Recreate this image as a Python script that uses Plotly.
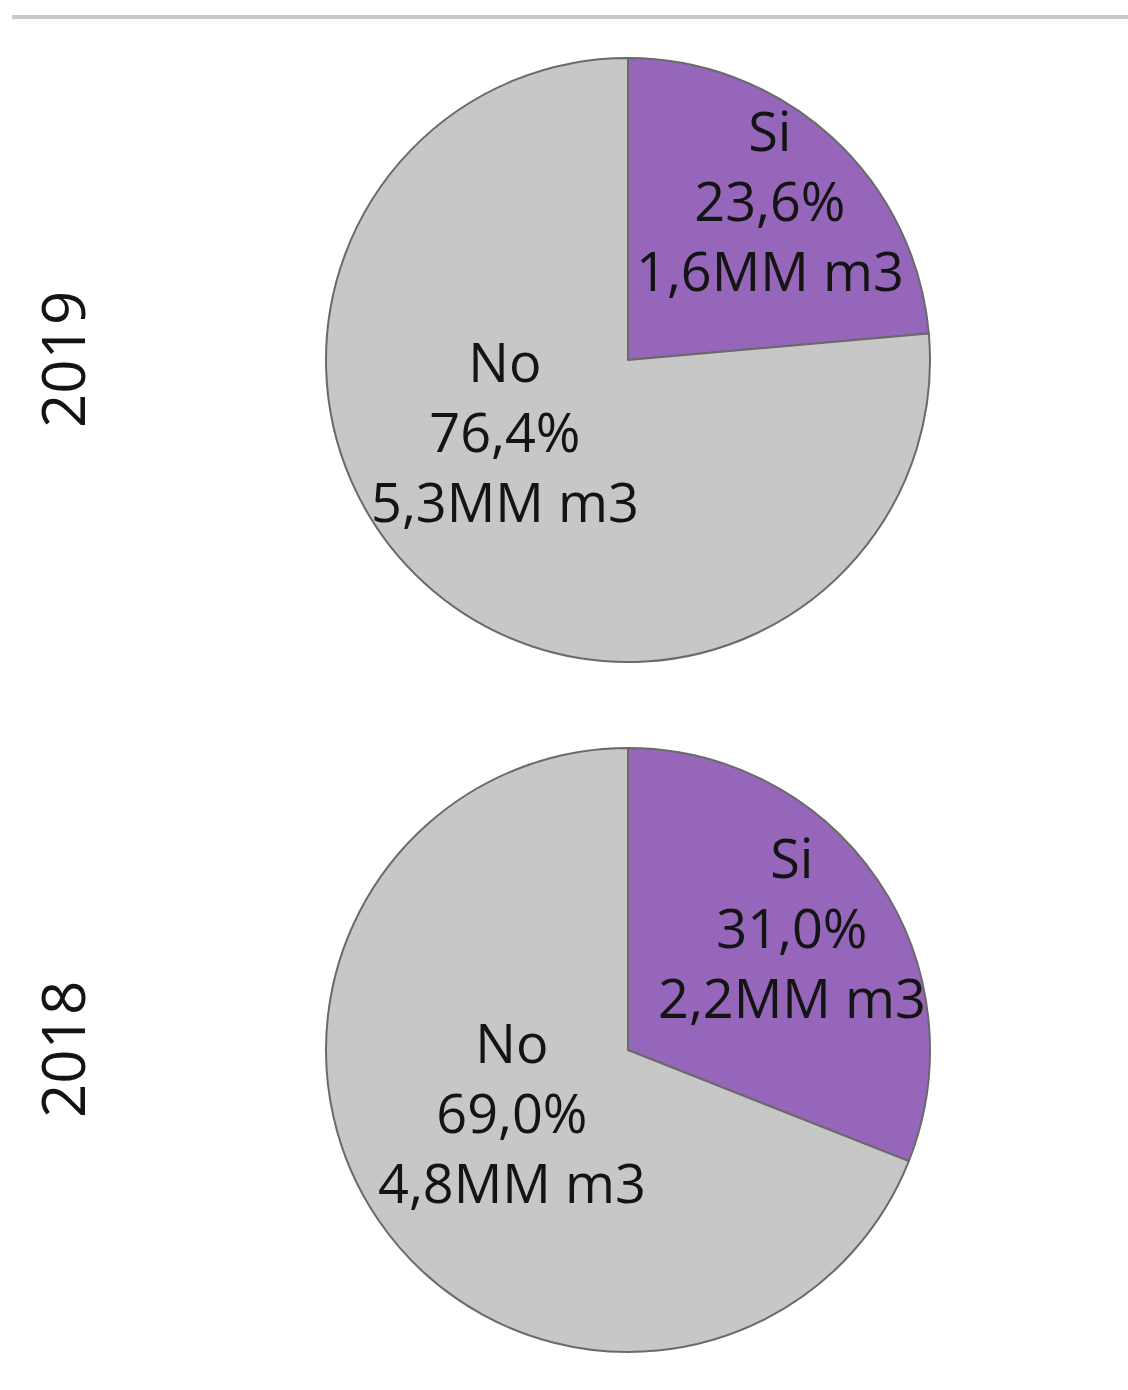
import plotly.graph_objects as go

# Share of volume, by year
years = ["2019", "2018"]
categories = ["Si", "No"]
share_pct = {
    "2019": [23.6, 76.4],
    "2018": [31.0, 69.0],
}
volume_mm_m3 = {
    "2019": [1.6, 5.3],
    "2018": [2.2, 4.8],
}

W, H = 1128, 1390
colors = ["#9566B9", "#C7C7C7"]
outline = "#6A6A6A"
font_family = "Open Sans, Noto Sans, sans-serif"

# Pie placement (pixel center, radius) for each year
pie_geom = {"2019": (628, 360, 302), "2018": (628, 1050, 302)}
# Label block centers (pixels) per year and category
label_pos = {
    "2019": [(770, 200), (505, 431)],
    "2018": [(792, 927), (512, 1112)],
}


def fmt_es(v, nd):
    return f"{v:.{nd}f}".replace(".", ",")


fig = go.Figure()
annotations = []
for yr in years:
    cx, cy, r = pie_geom[yr]
    fig.add_trace(go.Pie(
        labels=categories,
        values=share_pct[yr],
        sort=False,
        direction="clockwise",
        rotation=0,
        marker=dict(colors=colors, line=dict(color=outline, width=2)),
        textinfo="none",
        hoverinfo="label+percent",
        showlegend=False,
        domain=dict(
            x=[(cx - r) / W, (cx + r) / W],
            y=[1 - (cy + r) / H, 1 - (cy - r) / H],
        ),
    ))
    for cat, pct, vol, (lx, ly) in zip(categories, share_pct[yr], volume_mm_m3[yr], label_pos[yr]):
        annotations.append(dict(
            x=lx / W, y=1 - ly / H, xref="paper", yref="paper",
            xanchor="center", yanchor="middle", showarrow=False,
            text=f"{cat}<br>{fmt_es(pct, 1)}%<br>{fmt_es(vol, 1)}MM m3",
            font=dict(family=font_family, size=54, color="#141414"),
        ))
    # Year label on the left, rotated
    annotations.append(dict(
        x=62 / W, y=1 - cy / H, xref="paper", yref="paper",
        xanchor="center", yanchor="middle", showarrow=False,
        text=yr, textangle=-90,
        font=dict(family=font_family, size=60, color="#141414"),
    ))

fig.update_layout(
    width=W, height=H,
    margin=dict(l=0, r=0, t=0, b=0),
    paper_bgcolor="white",
    plot_bgcolor="white",
    annotations=annotations,
    shapes=[dict(
        type="line", xref="paper", yref="paper",
        x0=12 / W, x1=1, y0=1 - 17 / H, y1=1 - 17 / H,
        line=dict(color="#C8C8C8", width=4),
    )],
)

fig.write_html("out.html")
